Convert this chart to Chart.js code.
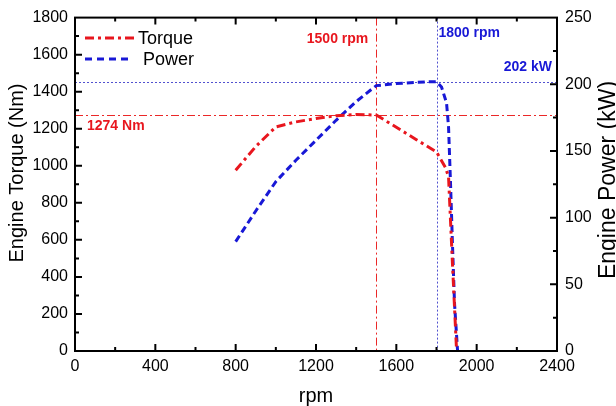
<!DOCTYPE html>
<html>
<head>
<meta charset="utf-8">
<script src="https://cdn.jsdelivr.net/npm/chart.js@4"></script>
<style>
  html, body { margin: 0; padding: 0; background: #fff; }
  canvas { display: block; }
</style>
</head>
<body>
<canvas id="chart" width="616" height="406"></canvas>
<script>
// engine curves
const torqueRpm = [800, 900, 1000, 1100, 1200, 1300, 1400, 1500, 1600, 1700, 1800, 1845, 1860, 1870, 1880, 1890, 1900];
const torqueNm = [976, 1104, 1210, 1237, 1255, 1270, 1277, 1274, 1208, 1141, 1075, 990, 940, 700, 460, 230, 0];

const powerRpm = [800, 900, 1000, 1100, 1200, 1300, 1400, 1500, 1600, 1700, 1800, 1825, 1850, 1860, 1870, 1880, 1890, 1905];
const powerKw = [82, 105, 127, 143, 158, 173, 187, 199, 200.5, 201.5, 202, 198, 186, 168, 125, 78, 35, 0];

// reference markers
const peakTorque = 1274;
const peakTorqueRpm = 1500;
const peakPower = 202;
const peakPowerRpm = 1800;

const FONT = '"Liberation Sans", Arial, sans-serif';
const RED = "rgb(232, 22, 30)";
const BLUE = "rgb(24, 24, 214)";

function toPoints(xs, ys) {
  return xs.map((x, i) => ({ x: x, y: ys[i] }));
}

const frame = {
  id: "frame",
  beforeDatasetsDraw(chart) {
    const ctx = chart.ctx;
    const a = chart.chartArea;
    const x = chart.scales.x;
    const y = chart.scales.y;
    const y1 = chart.scales.y1;
    ctx.save();
    ctx.lineWidth = 1;

    // torque guides
    ctx.strokeStyle = "rgb(235, 40, 40)";
    ctx.setLineDash([8, 3, 2, 3]);
    const ty = Math.round(y.getPixelForValue(peakTorque)) + 0.5;
    ctx.beginPath(); ctx.moveTo(a.left, ty); ctx.lineTo(a.right, ty); ctx.stroke();
    const tx = Math.round(x.getPixelForValue(peakTorqueRpm)) + 0.5;
    ctx.beginPath(); ctx.moveTo(tx, a.top); ctx.lineTo(tx, a.bottom); ctx.stroke();

    // power guides
    ctx.strokeStyle = "rgba(50, 50, 200, 0.85)";
    ctx.setLineDash([2, 2]);
    const py = Math.round(y1.getPixelForValue(peakPower)) + 0.5;
    ctx.beginPath(); ctx.moveTo(a.left, py); ctx.lineTo(a.right, py); ctx.stroke();
    const px = Math.round(x.getPixelForValue(peakPowerRpm)) + 0.5;
    ctx.beginPath(); ctx.moveTo(px, a.top); ctx.lineTo(px, a.bottom); ctx.stroke();
    ctx.restore();
  },
  afterDraw(chart) {
    const ctx = chart.ctx;
    const a = chart.chartArea;
    const x = chart.scales.x;
    const y = chart.scales.y;
    const y1 = chart.scales.y1;
    ctx.save();

    // axis box
    ctx.strokeStyle = "#000";
    ctx.lineWidth = 2;
    ctx.setLineDash([]);
    ctx.strokeRect(a.left, a.top, a.right - a.left, a.bottom - a.top);

    // inward ticks
    ctx.lineWidth = 2;
    ctx.beginPath();
    for (let v = 200; v < 2400; v += 200) {
      const len = v % 400 === 0 ? 7 : 4;
      const p = x.getPixelForValue(v);
      ctx.moveTo(p, a.bottom); ctx.lineTo(p, a.bottom - len);
      ctx.moveTo(p, a.top); ctx.lineTo(p, a.top + len);
    }
    for (let v = 100; v < 1800; v += 100) {
      const len = v % 200 === 0 ? 7 : 4;
      const p = y.getPixelForValue(v);
      ctx.moveTo(a.left, p); ctx.lineTo(a.left + len, p);
    }
    for (let v = 25; v < 250; v += 25) {
      const len = v % 50 === 0 ? 7 : 4;
      const p = y1.getPixelForValue(v);
      ctx.moveTo(a.right, p); ctx.lineTo(a.right - len, p);
    }
    ctx.stroke();

    // legend
    const lx = a.left + 10;
    ctx.lineWidth = 3;
    ctx.strokeStyle = RED;
    ctx.setLineDash([9, 4, 3, 4]);
    ctx.beginPath(); ctx.moveTo(lx, 38); ctx.lineTo(lx + 50, 38); ctx.stroke();
    ctx.strokeStyle = BLUE;
    ctx.setLineDash([7, 5]);
    ctx.beginPath(); ctx.moveTo(lx, 59); ctx.lineTo(lx + 48, 59); ctx.stroke();
    ctx.setLineDash([]);
    ctx.fillStyle = "#000";
    ctx.font = "18px " + FONT;
    ctx.textBaseline = "middle";
    ctx.textAlign = "left";
    ctx.fillText("Torque", lx + 53, 39);
    ctx.fillText("Power", lx + 58, 60);

    // marker labels
    ctx.font = "bold 14px " + FONT;
    ctx.fillStyle = RED;
    ctx.fillText(peakTorque + " Nm", a.left + 12, y.getPixelForValue(peakTorque) + 11);
    ctx.textAlign = "right";
    ctx.fillText(peakTorqueRpm + " rpm", x.getPixelForValue(peakTorqueRpm) - 8, a.top + 22);
    ctx.fillStyle = BLUE;
    ctx.fillText(peakPower + " kW", a.right - 5, y1.getPixelForValue(peakPower) - 14);
    ctx.textAlign = "left";
    ctx.fillText(peakPowerRpm + " rpm", x.getPixelForValue(peakPowerRpm) + 2, a.top + 16);

    // axis titles
    ctx.fillStyle = "#000";
    ctx.textAlign = "center";
    ctx.textBaseline = "middle";
    ctx.font = "20px " + FONT;
    ctx.fillText("rpm", (a.left + a.right) / 2, 396);
    ctx.save();
    ctx.translate(17, 173);
    ctx.rotate(-Math.PI / 2);
    ctx.fillText("Engine Torque (Nm)", 0, 0);
    ctx.restore();
    ctx.save();
    ctx.font = "23px " + FONT;
    ctx.translate(609, 180);
    ctx.rotate(-Math.PI / 2);
    ctx.fillText("Engine Power (kW)", 0, 0);
    ctx.restore();

    ctx.restore();
  },
};

const tickFont = { family: FONT, size: 16 };
const plain = (v) => String(v);

new Chart(document.getElementById("chart").getContext("2d"), {
  type: "line",
  data: {
    datasets: [
      {
        label: "Torque",
        data: toPoints(torqueRpm, torqueNm),
        yAxisID: "y",
        borderColor: RED,
        borderWidth: 3,
        borderDash: [9, 4, 3, 4],
        pointRadius: 0,
        tension: 0,
        fill: false,
      },
      {
        label: "Power",
        data: toPoints(powerRpm, powerKw),
        yAxisID: "y1",
        borderColor: BLUE,
        borderWidth: 3,
        borderDash: [7, 4],
        pointRadius: 0,
        tension: 0,
        fill: false,
      },
    ],
  },
  options: {
    responsive: false,
    animation: false,
    devicePixelRatio: 1,
    layout: { padding: { top: 17, left: 0, right: 0, bottom: 0 } },
    plugins: {
      legend: { display: false },
      tooltip: { enabled: false },
    },
    scales: {
      x: {
        type: "linear",
        min: 0,
        max: 2400,
        grid: { display: false, drawTicks: false },
        border: { display: false },
        ticks: { stepSize: 400, color: "#000", font: tickFont, padding: 6, maxRotation: 0, callback: plain },
        afterFit(scale) { scale.height = 55; },
      },
      y: {
        position: "left",
        min: 0,
        max: 1800,
        grid: { display: false, drawTicks: false },
        border: { display: false },
        ticks: { stepSize: 200, color: "#000", font: tickFont, padding: 7, callback: plain },
        afterFit(scale) { scale.width = 75; },
      },
      y1: {
        position: "right",
        min: 0,
        max: 250,
        grid: { display: false, drawTicks: false },
        border: { display: false },
        ticks: { stepSize: 50, color: "#000", font: tickFont, padding: 8, callback: plain },
        afterFit(scale) { scale.width = 59; },
      },
    },
  },
  plugins: [frame],
});
</script>
</body>
</html>
